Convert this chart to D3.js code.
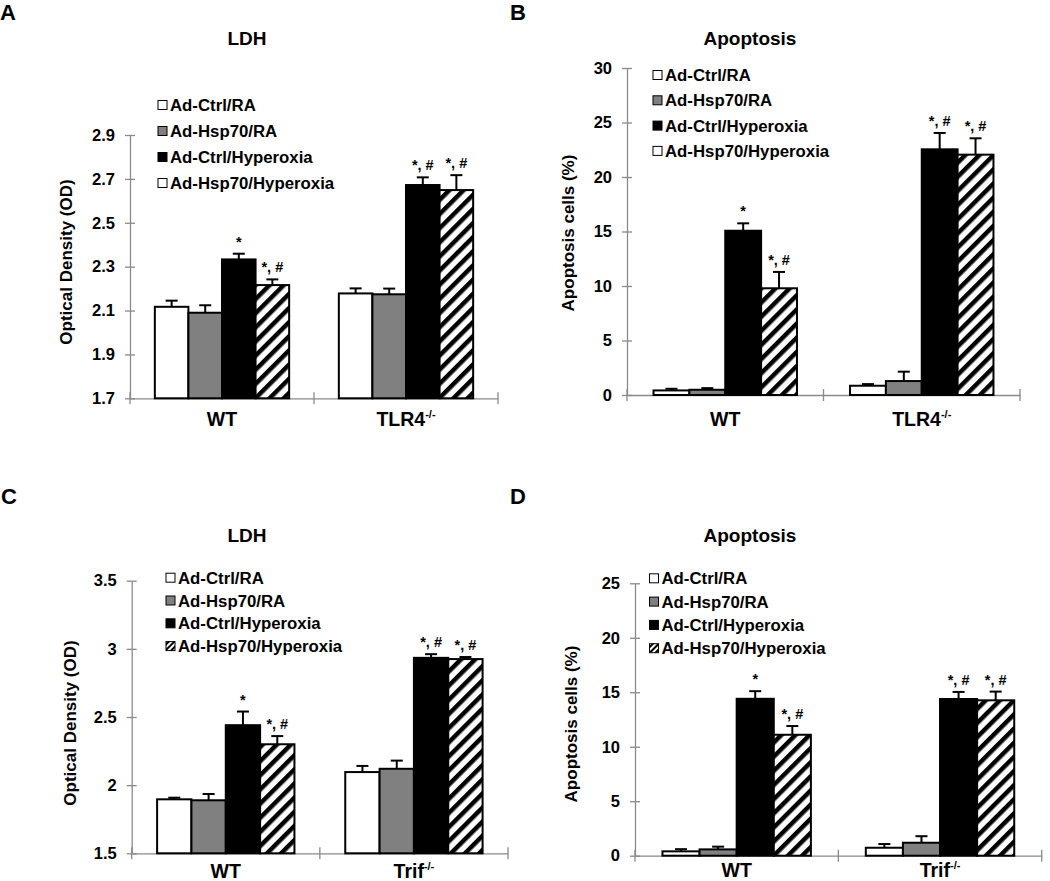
<!DOCTYPE html>
<html>
<head>
<meta charset="utf-8">
<script src="https://cdn.jsdelivr.net/npm/d3@7"></script>
<style>
  body { margin: 0; background: #fff; }
  text { font-family: "Liberation Sans", Arial, sans-serif; font-weight: bold; fill: #000; }
</style>
</head>
<body>
<svg id="fig" width="1050" height="881"></svg>
<script>
// ---- data ----
var seriesNames = ["Ad-Ctrl/RA", "Ad-Hsp70/RA", "Ad-Ctrl/Hyperoxia", "Ad-Hsp70/Hyperoxia"];
var tlr4Groups = ["WT", "TLR4"];
var trifGroups = ["WT", "Trif"];
var koSuffix = ["", "-/-"];
var sigMarks = [["", "", "*", "*, #"], ["", "", "*, #", "*, #"]];

// A: LDH, WT vs TLR4-/-
var ldhTlr4Mean = [[2.117, 2.090, 2.333, 2.216], [2.178, 2.174, 2.672, 2.649]];
var ldhTlr4Err  = [[0.028, 0.034, 0.026, 0.026], [0.023, 0.026, 0.035, 0.068]];
var ldhTlr4Ticks = [1.7, 1.9, 2.1, 2.3, 2.5, 2.7, 2.9];

// B: apoptosis, WT vs TLR4-/-
var apoTlr4Mean = [[0.42, 0.48, 15.07, 9.79], [0.85, 1.28, 22.54, 22.05]];
var apoTlr4Err  = [[0.15, 0.15, 0.68, 1.50], [0.15, 0.86, 1.50, 1.50]];
var apoTlr4Ticks = [0, 5, 10, 15, 20, 25, 30];

// C: LDH, WT vs Trif-/-
var ldhTrifMean = [[1.896, 1.889, 2.440, 2.300], [2.096, 2.120, 2.934, 2.925]];
var ldhTrifErr  = [[0.012, 0.046, 0.100, 0.060], [0.045, 0.060, 0.027, 0.015]];
var ldhTrifTicks = [1.5, 2, 2.5, 3, 3.5];

// D: apoptosis, WT vs Trif-/-
var apoTrifMean = [[0.40, 0.58, 14.40, 11.10], [0.73, 1.19, 14.38, 14.26]];
var apoTrifErr  = [[0.20, 0.25, 0.70, 0.80], [0.34, 0.60, 0.65, 0.80]];
var apoTrifTicks = [0, 5, 10, 15, 20, 25];

// ---- drawing ----
var svg = d3.select("#fig");
svg.append("rect").attr("width", 1050).attr("height", 881).attr("fill", "#fff");

// 斜線パターン
var defs = svg.append("defs");
function hatch(id, size, stripe){
    var pat = defs.append("pattern")
        .attr("id", id)
        .attr("patternUnits", "userSpaceOnUse")
        .attr("width", size).attr("height", size)
        .attr("patternTransform", "rotate(45)");
    pat.append("rect").attr("width", size).attr("height", size).attr("fill", "#fff");
    pat.append("rect").attr("width", stripe).attr("height", size).attr("fill", "#000");
}
hatch("hatch", 10, 4.5);
hatch("hatchSmall", 4, 2);

var fills = ["#ffffff", "#808080", "#000000", "url(#hatch)"];

function panel(p){
    var g = svg.append("g");

    // scales
    var x = d3.scaleBand().domain(p.groups).range([p.x0, p.x1]);
    var xs = d3.scaleBand().domain(d3.range(seriesNames.length))
        .range([0, x.bandwidth()])
        .paddingInner(0).paddingOuter(0.74);
    var y = d3.scaleLinear()
        .domain([p.ticks[0], p.ticks[p.ticks.length - 1]])
        .range([p.y0, p.y1]);

    // panel letter and title
    g.append("text").attr("x", p.lx0).attr("y", p.ly0).style("font-size", "22px").text(p.letter);
    g.append("text").attr("x", p.tx).attr("y", p.ty).attr("text-anchor", "middle")
        .style("font-size", "19px").text(p.title);

    // y axis
    var ya = g.append("g")
        .attr("transform", "translate(" + p.x0 + ",0)")
        .style("color", "#8a8a8a")
        .call(d3.axisLeft(y).tickValues(p.ticks).tickFormat(p.fmt)
            .tickSizeInner(5).tickSizeOuter(0).tickPadding(10));
    ya.select(".domain").attr("stroke-width", 1.3);
    ya.selectAll(".tick line").attr("x1", 5).attr("stroke-width", 1.3);
    ya.selectAll(".tick text").style("font-size", "16.5px");

    g.append("text")
        .attr("transform", "translate(" + p.ylx + "," + p.yly + ") rotate(-90)")
        .attr("text-anchor", "middle")
        .style("font-size", "17px")
        .text(p.ylabel);

    // x axis
    var xa = g.append("g")
        .attr("transform", "translate(0," + p.y0 + ")")
        .style("color", "#8a8a8a")
        .call(d3.axisBottom(x).tickSize(0).tickSizeOuter(0));
    xa.select(".domain").attr("stroke-width", 1.3);
    xa.selectAll(".tick text")
        .attr("y", p.xlOff).attr("dy", 0)
        .style("font-size", "19.5px")
        .each(function(d, i){
            if (koSuffix[i]) {
                d3.select(this).append("tspan")
                    .attr("dy", -8).style("font-size", "11px")
                    .text(koSuffix[i]);
            }
        });
    // group divider ticks
    var edges = [p.x0].concat(p.groups.map(function(d){ return x(d) + x.bandwidth(); }));
    xa.selectAll(".edge").data(edges).enter().append("line")
        .attr("x1", function(d){ return d; }).attr("x2", function(d){ return d; })
        .attr("y1", -6).attr("y2", 6)
        .attr("stroke", "#8a8a8a").attr("stroke-width", 1.3);

    // bars
    p.groups.forEach(function(grp, gi){
        var gx = x(grp);
        var rows = p.mean[gi].map(function(m, si){
            return { s: si, m: m, e: p.err[gi][si], sig: sigMarks[gi][si] };
        });
        var bg = g.append("g");
        bg.selectAll("rect").data(rows).enter().append("rect")
            .attr("x", function(d){ return gx + xs(d.s); })
            .attr("y", function(d){ return y(d.m); })
            .attr("width", xs.bandwidth())
            .attr("height", function(d){ return p.y0 - y(d.m); })
            .attr("fill", function(d){ return fills[d.s]; })
            .attr("stroke", "#000").attr("stroke-width", 2);

        // error bars (upper only)
        var cx = function(d){ return gx + xs(d.s) + xs.bandwidth() / 2; };
        bg.selectAll(".eb").data(rows).enter().append("line")
            .attr("x1", cx).attr("x2", cx)
            .attr("y1", function(d){ return y(d.m); })
            .attr("y2", function(d){ return y(d.m + d.e); })
            .attr("stroke", "#000").attr("stroke-width", 2);
        bg.selectAll(".cap").data(rows).enter().append("line")
            .attr("x1", function(d){ return cx(d) - 6; })
            .attr("x2", function(d){ return cx(d) + 6; })
            .attr("y1", function(d){ return y(d.m + d.e); })
            .attr("y2", function(d){ return y(d.m + d.e); })
            .attr("stroke", "#000").attr("stroke-width", 2);
        bg.selectAll(".sig").data(rows.filter(function(d){ return d.sig; })).enter().append("text")
            .attr("x", cx)
            .attr("y", function(d){ return y(d.m + d.e) - 7; })
            .attr("text-anchor", "middle")
            .style("font-size", "14.5px")
            .text(function(d){ return d.sig; });
    });

    // legend
    var lg = g.append("g");
    seriesNames.forEach(function(name, i){
        var ly = p.legY + i * p.legStep;
        var f = fills[i];
        if (i === 3) f = p.legHatch ? "url(#hatchSmall)" : "#fff";
        lg.append("rect")
            .attr("x", p.legX).attr("y", ly - 4.5)
            .attr("width", 9).attr("height", 9)
            .attr("fill", f).attr("stroke", "#000").attr("stroke-width", 1);
        lg.append("text")
            .attr("x", p.legX + 12).attr("y", ly + 6)
            .style("font-size", "16.8px")
            .text(name);
    });
}

panel({
    letter: "A", lx0: 0, ly0: 20, title: "LDH", tx: 247, ty: 45,
    groups: tlr4Groups, mean: ldhTlr4Mean, err: ldhTlr4Err, ticks: ldhTlr4Ticks,
    fmt: d3.format(".1f"), ylabel: "Optical Density (OD)", ylx: 72, yly: 262,
    x0: 130, x1: 498, y0: 398.3, y1: 135, xlOff: 28,
    legX: 158, legY: 105, legStep: 26, legHatch: false
});
panel({
    letter: "B", lx0: 510, ly0: 20, title: "Apoptosis", tx: 750, ty: 45,
    groups: tlr4Groups, mean: apoTlr4Mean, err: apoTlr4Err, ticks: apoTlr4Ticks,
    fmt: d3.format("d"), ylabel: "Apoptosis cells (%)", ylx: 574, yly: 233,
    x0: 627, x1: 1020, y0: 395, y1: 68, xlOff: 31,
    legX: 653, legY: 75, legStep: 25.3, legHatch: false
});
panel({
    letter: "C", lx0: 1, ly0: 504, title: "LDH", tx: 247, ty: 542,
    groups: trifGroups, mean: ldhTrifMean, err: ldhTrifErr, ticks: ldhTrifTicks,
    fmt: d3.format("~g"), ylabel: "Optical Density (OD)", ylx: 76, yly: 723,
    x0: 131.7, x1: 508, y0: 853.3, y1: 580.7, xlOff: 25,
    legX: 166, legY: 577.7, legStep: 22.8, legHatch: true
});
panel({
    letter: "D", lx0: 510, ly0: 504, title: "Apoptosis", tx: 750, ty: 542,
    groups: trifGroups, mean: apoTrifMean, err: apoTrifErr, ticks: apoTrifTicks,
    fmt: d3.format("d"), ylabel: "Apoptosis cells (%)", ylx: 577, yly: 724,
    x0: 635, x1: 1041.7, y0: 855.7, y1: 583.3, xlOff: 21,
    legX: 649.5, legY: 578.3, legStep: 23.3, legHatch: true
});
</script>
</body>
</html>
